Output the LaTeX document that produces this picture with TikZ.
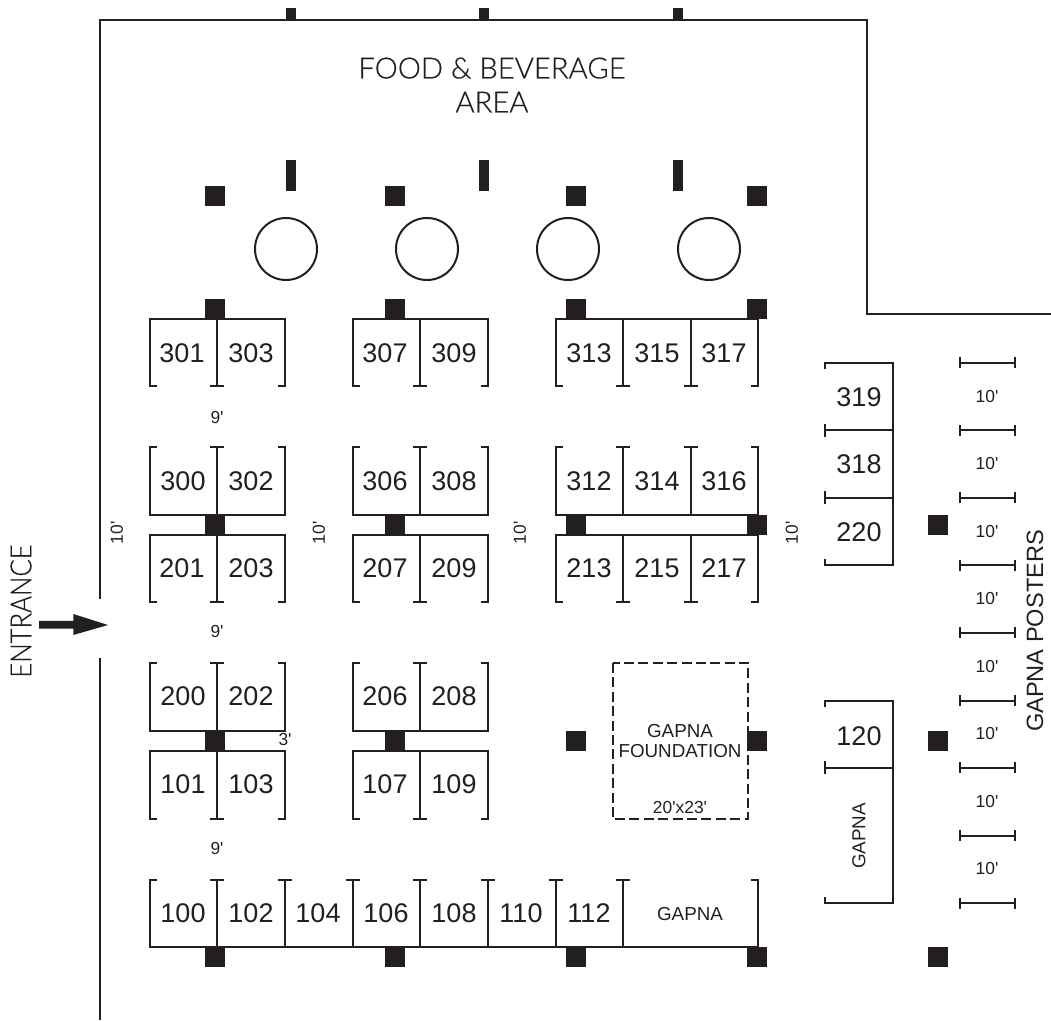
\documentclass[tikz,border=0pt]{standalone}
\usepackage{fontspec}
\newfontfamily\armfont{Liberation Sans}
\newfontfamily\signfont{Lato Light}[FakeBold=0.5]
\definecolor{ink}{HTML}{231F20}
\tikzset{
  wall/.style={draw=ink,line width=1pt,line cap=butt,line join=miter},
  post/.style={fill=ink,draw=none},
  bignum/.style={font=\armfont\fontsize{13.5}{14}\selectfont,text=ink,inner sep=0pt},
  tiny/.style={font=\armfont\fontsize{8.7}{9}\selectfont,text=ink,inner sep=0pt},
  midlabel/.style={font=\armfont\fontsize{9.4}{9.75}\selectfont,text=ink,inner sep=0pt,align=center},
  sign/.style={font=\signfont\fontsize{14.6}{17}\selectfont,text=ink,inner sep=0pt,align=center},
}
% bracket open at the bottom
\newcommand{\brOpenB}[4]{\draw[wall] ({#1+7},#4)--(#1,#4)--(#1,#3)--(#2,#3)--(#2,#4)--({#2-7},#4);}
% bracket open at the top
\newcommand{\brOpenT}[4]{\draw[wall] ({#1+7},#3)--(#1,#3)--(#1,#4)--(#2,#4)--(#2,#3)--({#2-7},#3);}
\newcommand{\divOpenB}[3]{\draw[wall] (#1,#2)--(#1,#3) ({#1-7},#3)--({#1+7},#3);}
\newcommand{\divOpenT}[3]{\draw[wall] (#1,#3)--(#1,#2) ({#1-7},#2)--({#1+7},#2);}
\begin{document}
\begin{tikzpicture}[x=0.5pt,y=-0.5pt]
\useasboundingbox (0,0) rectangle (1051,1021);
% walls
\draw[wall] (100,599)--(100,20)--(867,20)--(867,314)--(1051,314);
\draw[wall] (100,658)--(100,1020);
% posts
\foreach \x in {215,395,576,757}{
  \foreach \y in {196,309,525,741,957}{
    \fill[post] ({\x-10},{\y-10}) rectangle ({\x+10},{\y+10});
  }
}
\foreach \y in {525,741,957}{\fill[post] (928,{\y-10}) rectangle (948,{\y+10});}
\foreach \x in {291,484,678}{
  \fill[post] ({\x-5},8) rectangle ({\x+5},20);
  \fill[post] ({\x-5},160) rectangle ({\x+5},191.5);
}
% round tables
\foreach \x in {286,427,568,709}{\draw[wall] (\x,249) circle[radius=31];}
% booths open at the bottom
\foreach \a/\m/\b/\t/\e in {149.5/217/285/319/386,352.5/420/488/319/386,
                            149.5/217/285/535/602,352.5/420/488/535/602,
                            149.5/217/285/751/819,352.5/420/488/751/819}{
  \brOpenB{\a}{\b}{\t}{\e}\divOpenB{\m}{\t}{\e}
}
\brOpenB{555.5}{758}{319}{386}\divOpenB{623}{319}{386}\divOpenB{690.5}{319}{386}
\brOpenB{555.5}{758}{535}{602}\divOpenB{623}{535}{602}\divOpenB{690.5}{535}{602}
% booths open at the top
\foreach \a/\m/\b/\t/\e in {149.5/217/285/447/515,352.5/420/488/447/515,
                            149.5/217/285/663/731,352.5/420/488/663/731}{
  \brOpenT{\a}{\b}{\t}{\e}\divOpenT{\m}{\t}{\e}
}
\brOpenT{555.5}{758}{447}{515}\divOpenT{623}{447}{515}\divOpenT{690.5}{447}{515}
\brOpenT{149.5}{758}{880}{947}
\foreach \m in {217,285,352.5,420,488,555.5,623}{\divOpenT{\m}{880}{947}}
% side booths
\draw[wall] (825,369)--(825,363)--(892.7,363)--(892.7,565.3)--(825,565.3)--(825,559);
\draw[wall] (825,424)--(825,437) (825,430.5)--(892.7,430.5);
\draw[wall] (825,491.5)--(825,504.5) (825,498)--(892.7,498);
\draw[wall] (825,707)--(825,700.7)--(892.7,700.7)--(892.7,903.3)--(825,903.3)--(825,897);
\draw[wall] (825,761.5)--(825,774.5) (825,768)--(892.7,768);
% poster boards
\foreach \y in {362.7,430.3,498,565.3,633,700.7,768,835.6,903.3}{
  \draw[wall] (960,{\y-5.5})--(960,{\y+5.5}) (960,\y)--(1015,\y) (1015,{\y-5.5})--(1015,{\y+5.5});
}
% foundation
\draw[wall,dash pattern=on 5pt off 2.2pt] (612.5,663) rectangle (748,819);
% entrance arrow
\fill[ink] (39,621)--(73.3,621)--(73.3,614)--(108,625)--(73.3,635)--(73.3,628.7)--(39,628.7)--cycle;
% booth numbers
\foreach \n/\x/\y in {301/182/353,303/251/353,307/385/353,309/454/353,313/589/353,315/657/353,317/724/353,
  300/183/481,302/251/481,306/385/481,308/454/481,312/589/481,314/657/481,316/724/481,
  201/182/568,203/251/568,207/385/568,209/454/568,213/589/568,215/657/568,217/724/568,
  200/183/696,202/251/696,206/385/696,208/454/696,
  101/183/784,103/251/784,107/385/784,109/454/784,
  100/183/913,102/251/913,104/318/913,106/386/913,108/454/913,110/521/913,112/589/913,
  319/859/397,318/859/464,220/859/532,120/859/736}{
  \node[bignum] (b\n) at (\x,\y) {\n};
}
% small dimensions
\node[tiny] (nineA) at (217,418) {9'};
\node[tiny] (nineB) at (217,632) {9'};
\node[tiny] (nineC) at (217,849) {9'};
\node[tiny] (threeA) at (285,740) {3'};
\foreach \x in {117,319,520,792}{\node[tiny,rotate=90] (ten\x) at (\x,533) {10'};}
\foreach \y in {397,464,532,599,667,734,802,869}{\node[tiny] (post\y) at (987,\y) {10'};}
\node[tiny] (dims) at (680,808) {20'x23'};
% labels
\node[midlabel] (foundation) at (680,741) {GAPNA\\FOUNDATION};
\node[midlabel] (gapnaA) at (690,914) {GAPNA};
\node[midlabel,rotate=90] (gapnaB) at (859,836) {GAPNA};
\node[font=\armfont\fontsize{11.8}{12}\selectfont,text=ink,inner sep=0pt,rotate=90] (posters) at (1035,631) {GAPNA POSTERS};
\node[sign] (food) at (492,85) {FOOD \& BEVERAGE\\AREA};
\node[sign,rotate=90] (entrance) at (21,611) {\scalebox{0.88}[1]{ENTRANCE}};
\end{tikzpicture}
\end{document}
